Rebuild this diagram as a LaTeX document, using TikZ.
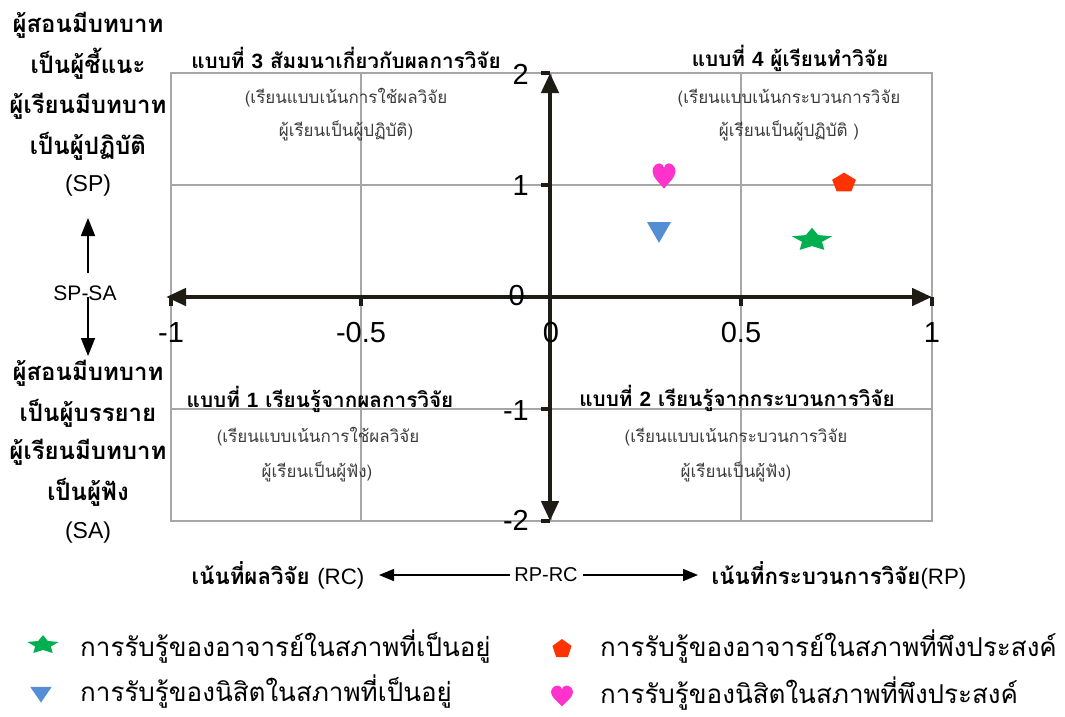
\documentclass[tikz,border=0pt]{standalone}
\usepackage{fontspec}
\setmainfont{Liberation Sans}
\newfontfamily\thai[Script=Thai]{Loma}
\usetikzlibrary{arrows.meta,shapes.geometric}
\definecolor{axisc}{RGB}{30,28,20}
\definecolor{gridc}{RGB}{166,166,166}
\definecolor{subc}{RGB}{60,60,60}
\definecolor{mgreen}{RGB}{0,176,80}
\definecolor{mred}{RGB}{255,51,0}
\definecolor{mblue}{RGB}{85,142,213}
\definecolor{mpink}{RGB}{255,51,204}
\tikzset{
  gridline/.style={draw=gridc,line width=1.3pt},
  axisline/.style={draw=axisc,line width=4.5pt,{Triangle[length=20pt,width=17pt]}-{Triangle[length=20pt,width=17pt]}},
  tickline/.style={draw=axisc,line width=4pt},
  qtitle/.style={font=\thai\bfseries\fontsize{20.7}{24}\selectfont,inner sep=0pt},
  qsub/.style={font=\thai\fontsize{17}{20}\selectfont,text=subc,inner sep=0pt},
  lefttxt/.style={font=\thai\bfseries\fontsize{24}{28}\selectfont,inner sep=0pt},
  latlbl/.style={font=\fontsize{21}{24}\selectfont,inner sep=0pt},
  numlbl/.style={font=\fontsize{29}{32}\selectfont,inner sep=0pt},
  legtxt/.style={font=\thai\fontsize{26}{30}\selectfont,inner sep=0pt,anchor=west},
  bottxt/.style={font=\thai\bfseries\fontsize{22.3}{26}\selectfont,inner sep=0pt},
  thinarrow/.style={draw=black,line width=1.6pt,-{Triangle[length=15pt,width=12pt]}},
  vertarrow/.style={draw=black,line width=1.8pt,-{Triangle[length=18pt,width=14pt]}},
  mstar/.style={star,star points=5,star point ratio=2.0,fill=mgreen,inner sep=0pt,transform shape},
  mpent/.style={regular polygon,regular polygon sides=5,fill=mred,inner sep=0pt,transform shape},
  mtri/.style={regular polygon,regular polygon sides=3,shape border rotate=180,fill=mblue,inner sep=0pt,transform shape},
}
\begin{document}
\begin{tikzpicture}[x=1pt,y=-1pt]
\useasboundingbox (0,0) rectangle (1065,716);
% grid
\draw[gridline] (171,73) rectangle (932,521);
\foreach \gx in {361,551,741} \draw[gridline] (\gx,73) -- (\gx,521);
\foreach \gy in {185,297,409} \draw[gridline] (171,\gy) -- (932,\gy);
% ticks
\foreach \tx in {171,361,741,932} \draw[tickline] (\tx,297) -- (\tx,306);
\foreach \ty in {73,185,409,521} \draw[tickline] (541,\ty) -- (550,\ty);
% axes
\coordinate (xl) at (166,297); \coordinate (xr) at (932,297);
\coordinate (yt) at (550,73); \coordinate (yb) at (550,521);
\draw[axisline] (xl) -- (xr);
\draw[axisline] (yb) -- (yt);
% axis numbers
\node[numlbl,anchor=east] (n2) at (529,74) {2};
\node[numlbl,anchor=east] (n1) at (529,186) {1};
\node[numlbl,anchor=east] (n0) at (525,296) {0};
\node[numlbl,anchor=east] (nm1) at (529,411) {-1};
\node[numlbl,anchor=east] (nm2) at (529,520) {-2};
\node[numlbl] (xm1) at (171,333) {-1};
\node[numlbl] (xm05) at (361,333) {-0.5};
\node[numlbl] (x0) at (551,333) {0};
\node[numlbl] (x05) at (741,333) {0.5};
\node[numlbl] (x1) at (932,333) {1};
% quadrant texts
\node[qtitle] (q3t) at (346,58) {แบบที่ {\rmfamily\bfseries 3} สัมมนาเกี่ยวกับผลการวิจัย};
\node[qsub] (q3a) at (346,98) {(เรียนแบบเน้นการใช้ผลวิจัย};
\node[qsub] (q3b) at (346,131) {ผู้เรียนเป็นผู้ปฏิบัติ)};
\node[qtitle] (q4t) at (790,58) {แบบที่ {\rmfamily\bfseries 4} ผู้เรียนทำวิจัย};
\node[qsub] (q4a) at (789,98) {(เรียนแบบเน้นกระบวนการวิจัย};
\node[qsub] (q4b) at (789,131) {ผู้เรียนเป็นผู้ปฏิบัติ )};
\node[qtitle] (q1t) at (320,399) {แบบที่ {\rmfamily\bfseries 1} เรียนรู้จากผลการวิจัย};
\node[qsub] (q1a) at (318,437) {(เรียนแบบเน้นการใช้ผลวิจัย};
\node[qsub] (q1b) at (317,472) {ผู้เรียนเป็นผู้ฟัง)};
\node[qtitle] (q2t) at (737,398) {แบบที่ {\rmfamily\bfseries 2} เรียนรู้จากกระบวนการวิจัย};
\node[qsub] (q2a) at (736,437) {(เรียนแบบเน้นกระบวนการวิจัย};
\node[qsub] (q2b) at (736,472) {ผู้เรียนเป็นผู้ฟัง)};
% left labels
\node[lefttxt] (l1) at (88,25) {ผู้สอนมีบทบาท};
\node[lefttxt] (l2) at (88,64) {เป็นผู้ชี้แนะ};
\node[lefttxt] (l3) at (88,106) {ผู้เรียนมีบทบาท};
\node[lefttxt] (l4) at (88,146) {เป็นผู้ปฏิบัติ};
\node[latlbl,font=\fontsize{23}{26}\selectfont] (sp) at (88,186) {(SP)};
\node[latlbl] (spsa) at (85,293) {SP-SA};
\node[lefttxt] (l5) at (88,373) {ผู้สอนมีบทบาท};
\node[lefttxt] (l6) at (88,413) {เป็นผู้บรรยาย};
\node[lefttxt] (l7) at (88,452) {ผู้เรียนมีบทบาท};
\node[lefttxt] (l8) at (88,492) {เป็นผู้ฟัง};
\node[latlbl,font=\fontsize{23}{26}\selectfont] (sa) at (88,533) {(SA)};
\coordinate (upS) at (88,273); \coordinate (upE) at (88,218);
\coordinate (dnS) at (88,297); \coordinate (dnE) at (88,356);
\draw[vertarrow] (upS) -- (upE);
\draw[vertarrow] (dnS) -- (dnE);
% bottom labels
\node[bottxt] (rc) at (278,575) {เน้นที่ผลวิจัย {\rmfamily\mdseries (RC)}};
\node[latlbl,font=\fontsize{20}{24}\selectfont] (rprc) at (546,575) {RP-RC};
\node[bottxt] (rp) at (839,575) {เน้นที่กระบวนการวิจัย{\rmfamily\mdseries (RP)}};
\coordinate (laS) at (510,575); \coordinate (laE) at (379,575);
\coordinate (raS) at (583,575); \coordinate (raE) at (698,575);
\draw[thinarrow] (laS) -- (laE);
\draw[thinarrow] (raS) -- (raE);
% data markers
\begin{scope}[shift={(812,240)},yscale=0.58]
\node[mstar,minimum size=42pt] (pstar) at (0,0) {};
\end{scope}
\begin{scope}[shift={(844,183)},yscale=0.83]
\node[mpent,minimum size=25pt] (ppent) at (0,0) {};
\end{scope}
\node[mtri,minimum size=27.7pt] (ptri) at (659,229) {};
\begin{scope}[shift={(664,176)},xscale=1.15,yscale=1.15]
\coordinate (pheart) at (0,0);
\fill[mpink] (0,11) .. controls (-4,6) and (-10,1) .. (-10,-4) .. controls (-10,-9) and (-6,-11) .. (-4,-11) .. controls (-2,-11) and (0,-9) .. (0,-7) .. controls (0,-9) and (2,-11) .. (4,-11) .. controls (6,-11) and (10,-9) .. (10,-4) .. controls (10,1) and (4,6) .. (0,11) -- cycle;
\end{scope}
% legend
\begin{scope}[shift={(43,645)},yscale=0.6]
\node[mstar,minimum size=33pt] (lstar) at (0,0) {};
\end{scope}
\begin{scope}[shift={(41,692)},yscale=0.84]
\node[mtri,minimum size=25pt] (ltri) at (0,0) {};
\end{scope}
\node[mpent,minimum size=20pt] (lpent) at (562,649) {};
\begin{scope}[shift={(562,696)},xscale=1.1,yscale=0.95]
\coordinate (lheart) at (0,0);
\fill[mpink] (0,11) .. controls (-4,6) and (-10,1) .. (-10,-4) .. controls (-10,-9) and (-6,-11) .. (-4,-11) .. controls (-2,-11) and (0,-9) .. (0,-7) .. controls (0,-9) and (2,-11) .. (4,-11) .. controls (6,-11) and (10,-9) .. (10,-4) .. controls (10,1) and (4,6) .. (0,11) -- cycle;
\end{scope}
\node[legtxt] (lg1) at (80,647) {การรับรู้ของอาจารย์ในสภาพที่เป็นอยู่};
\node[legtxt] (lg2) at (80,692) {การรับรู้ของนิสิตในสภาพที่เป็นอยู่};
\node[legtxt] (lg3) at (600,647) {การรับรู้ของอาจารย์ในสภาพที่พึงประสงค์};
\node[legtxt] (lg4) at (600,694) {การรับรู้ของนิสิตในสภาพที่พึงประสงค์};
\end{tikzpicture}
\end{document}
